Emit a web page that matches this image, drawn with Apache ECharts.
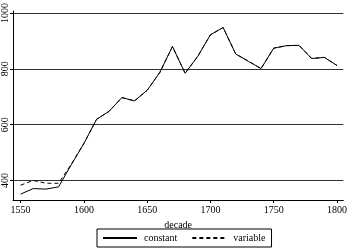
<!DOCTYPE html>
<html><head><meta charset="utf-8">
<script src="https://cdn.jsdelivr.net/npm/echarts@6/dist/echarts.min.js"></script>
<style>html,body{margin:0;padding:0;background:#fff}#c{width:350px;height:249px}</style>
</head><body><div id="c"></div>
<script>
var decades = [1550,1560,1570,1580,1590,1600,1610,1620,1630,1640,1650,1660,1670,1680,1690,1700,1710,1720,1730,1740,1750,1760,1770,1780,1790,1800];
var constantVals = [351,371,369,377,456,532,619,648,697,685,723,787,880,784,845,922,948,853,827,801,874,883,884,837,841,812];
var variableVals = [383,400,390,390,458,533,619,648,697,685,723,787,880,784,845,922,948,853,827,801,874,883,884,837,841,812];
var yTicks = [400,600,800,1000];
var xTicks = [1550,1600,1650,1700,1750,1800];
var seriesNames = ['constant','variable'];
var xName = 'decade';

function pairs(xs, ys){ return xs.map(function(x,i){ return [x, ys[i]]; }); }
function plain(v){ return String(v); }
var font = 'Liberation Serif';
var chart = echarts.init(document.getElementById('c'), null, {renderer:'canvas'});
chart.setOption({
  animation:false,
  backgroundColor:'#fff',
  textStyle:{fontFamily:font},
  grid:{left:13,right:3,top:7,bottom:49},
  xAxis:{type:'value',min:1544,max:1805,
    name:xName,nameLocation:'middle',nameGap:14,
    nameTextStyle:{fontFamily:font,fontSize:10,color:'#000'},
    axisLine:{show:true,lineStyle:{color:'#000',width:1}},
    axisTick:{show:true,length:3,customValues:xTicks,lineStyle:{color:'#000'}},
    axisLabel:{customValues:xTicks,formatter:plain,fontFamily:font,fontSize:10,color:'#000',margin:5},
    splitLine:{show:false}},
  yAxis:{type:'value',min:330,max:1007,
    axisLine:{show:true,lineStyle:{color:'#000',width:1}},
    axisTick:{show:true,length:3,customValues:yTicks,lineStyle:{color:'#000'}},
    axisLabel:{customValues:yTicks,formatter:plain,rotate:90,fontFamily:font,fontSize:10,color:'#000',margin:3},
    splitLine:{show:false}},
  legend:{bottom:2,left:97,data:seriesNames,
    borderColor:'#000',borderWidth:1,borderRadius:0,padding:[4,6,4,5],
    itemWidth:34,itemHeight:8,itemGap:14,
    itemStyle:{opacity:0},
    textStyle:{fontFamily:font,fontSize:10,color:'#000',padding:[0,0,0,2]}},
  series:[
    {name:seriesNames[0],type:'line',data:pairs(decades,constantVals),showSymbol:false,symbol:'none',
     lineStyle:{color:'#000',width:1,type:'solid'},itemStyle:{color:'#000'},
     markLine:{silent:true,symbol:['none','none'],label:{show:false},
       lineStyle:{color:'#000',width:1,type:'solid',opacity:0.8},
       data:yTicks.map(function(v){return {yAxis:v};})}},
    {name:seriesNames[1],type:'line',data:pairs(decades,variableVals),showSymbol:false,symbol:'none',
     lineStyle:{color:'#000',width:1,type:[4,3]},itemStyle:{color:'#000'}}
  ]
});
</script></body></html>
